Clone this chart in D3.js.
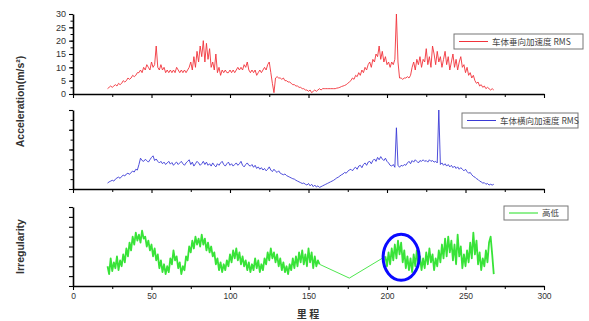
<!DOCTYPE html>
<html>
<head>
<meta charset="utf-8">
<script src="https://cdn.jsdelivr.net/npm/d3@7"></script>
<style>
  html, body { margin: 0; padding: 0; background: #fff; }
  svg { display: block; }
  text { font-family: "Liberation Sans", Arial, sans-serif; }
  .cjk { font-family: "Noto Sans CJK SC", sans-serif; }
</style>
</head>
<body>
<figure id="chart" style="margin:0"></figure>
<script>
// km positions shared by every series (22 .. 268)
const kmStart = 22;

// vertical acceleration RMS (m/s^2), one value per km from 22
const redValues = [
  2, 2.5, 3, 2.5, 3, 3.5, 3, 4, 3.5,
  4, 5, 4.5, 5, 6, 5.5, 6, 7, 6.5, 7, 8,
  8, 9, 8, 10, 9, 11, 10, 9, 12, 10, 11,
  18,
  10, 9, 11, 9, 10, 8, 9,
  8, 9, 8, 9, 8, 10, 9, 8, 9, 8, 9, 8,
  9, 10, 12, 9, 14, 10, 16, 12, 18, 14, 20, 12, 19, 13, 17, 10, 12, 9, 15, 8, 10, 7, 9,
  8, 9, 8, 8, 9, 8, 9, 8, 9, 10, 9, 10, 9, 11, 10, 12, 9,
  8, 9, 8, 9, 7, 8, 9, 8, 9, 10, 9, 11, 12,
  8, 4, 0.5, 6, 6.5, 6, 6, 5.5, 6, 5, 5, 4.5, 4.5, 4, 3.5, 3.5, 3, 3, 2.5, 2.5, 2, 2, 1.5, 1.5, 1, 1.5, 0.5, 1, 1.5, 1, 1.5, 2, 1.5,
  2, 2, 2, 2, 2, 2, 2, 2, 2, 2.2, 2.3, 2.5, 2.8, 3, 3.2, 3.5, 4,
  4.5, 5, 6, 5.5, 7, 6.5, 8, 7, 9, 8, 10, 9, 11, 12, 10, 13, 12,
  15, 14, 18, 13, 16, 12, 14, 11, 12, 10, 12, 11, 13,
  30,
  12, 6, 6, 5.5, 6, 6, 6.5, 6, 7,
  10, 12, 9, 13, 11, 14, 10, 13, 12, 17, 11, 14, 10, 18, 15, 11, 16, 12, 14, 10, 13, 16, 11, 14, 9, 12, 15, 10, 13, 9, 12, 14, 10, 11, 8, 10, 7,
  8, 6, 7, 5, 4, 4.5, 3, 3.5, 2.5, 3, 2, 2.5, 2, 1.5, 2, 1.5
];

// lateral acceleration RMS, one value per km from 22
const blueValues = [
  0.15, 0.18, 0.2, 0.22, 0.2, 0.25, 0.28, 0.3, 0.27, 0.32, 0.35, 0.33, 0.38, 0.4, 0.37, 0.42, 0.45, 0.43, 0.5, 0.48,
  0.62, 0.78, 0.72, 0.7, 0.75, 0.72, 0.68, 0.74, 0.8, 0.84, 0.72, 0.76, 0.7, 0.66, 0.7, 0.64, 0.68, 0.62, 0.66, 0.7,
  0.63, 0.67, 0.6, 0.65, 0.68, 0.62, 0.66, 0.7, 0.64, 0.6, 0.66, 0.7, 0.74, 0.62, 0.68, 0.58, 0.64, 0.7, 0.66, 0.6,
  0.64, 0.7, 0.62, 0.68, 0.6, 0.64, 0.58, 0.66, 0.6, 0.56, 0.64, 0.6, 0.66, 0.7, 0.62, 0.58, 0.64, 0.68, 0.6, 0.64,
  0.58, 0.62, 0.66, 0.6, 0.64, 0.7, 0.6, 0.56, 0.62, 0.66, 0.6, 0.58, 0.62, 0.55, 0.6, 0.52, 0.56, 0.5, 0.54, 0.48,
  0.52, 0.46, 0.5, 0.56, 0.48, 0.44, 0.5, 0.45, 0.42, 0.46, 0.4, 0.38, 0.36, 0.38, 0.34, 0.32, 0.3, 0.28, 0.26, 0.25,
  0.22, 0.2, 0.18, 0.16, 0.14, 0.15, 0.12, 0.1, 0.14, 0.08, 0.12, 0.06, 0.1, 0.05, 0.08, 0.04, 0.06, 0.08, 0.1, 0.12,
  0.14, 0.16, 0.18, 0.2, 0.22, 0.25, 0.28, 0.3, 0.33, 0.36, 0.38, 0.42, 0.4, 0.45, 0.48, 0.5, 0.46, 0.52, 0.55, 0.5,
  0.58, 0.6, 0.54, 0.62, 0.66, 0.6, 0.68, 0.7, 0.64, 0.72, 0.76, 0.7, 0.8, 0.74, 0.82, 0.76, 0.72, 0.78, 0.7, 0.66,
  0.6, 0.58, 0.62, 0.55, 1.55, 0.6, 0.55, 0.6, 0.58, 0.62, 0.6, 0.66, 0.7, 0.64, 0.72, 0.68, 0.74, 0.7, 0.66, 0.72,
  0.7, 0.74, 0.7, 0.72, 0.68, 0.74, 0.7, 0.72, 0.68, 0.7, 0.66, 2.0, 0.62, 0.66, 0.6, 0.64, 0.58, 0.62, 0.56, 0.6,
  0.54, 0.58, 0.52, 0.56, 0.5, 0.54, 0.5, 0.46, 0.5, 0.44, 0.4, 0.42, 0.36, 0.32, 0.3, 0.26, 0.24, 0.2, 0.18, 0.15,
  0.16, 0.12, 0.14, 0.1, 0.12, 0.1, 0.12
];

// track irregularity, one value per km from 22 (null = no reading)
const greenValues = [
  2.0, 1.2, 2.8, 1.5, 2.4, 1.8, 3.0, 1.6, 2.6, 2.0, 3.2, 2.4, 3.8, 3.0, 4.4, 3.6, 5.0, 4.2, 5.4, 4.6,
  5.2, 4.4, 5.6, 4.8, 5.0, 4.0, 4.6, 3.6, 4.2, 3.0, 3.8, 2.6, 3.2, 1.8, 2.6, 1.4, 2.2, 1.2, 2.0, 1.4,
  2.8, 2.2, 3.6, 2.6, 3.0, 1.8, 2.4, 1.2, 2.0, 1.6, 3.0, 2.6, 4.0, 3.4, 4.6, 3.8, 5.0, 4.2, 4.8, 4.0,
  5.2, 4.2, 4.8, 3.6, 4.4, 3.4, 4.0, 3.0, 3.4, 2.2, 2.8, 1.6, 2.4, 1.4, 2.2, 1.6, 2.6, 2.0, 3.2, 2.4,
  3.6, 2.8, 3.8, 2.6, 3.4, 2.2, 3.0, 2.0, 2.6, 1.6, 2.4, 1.4, 2.2, 1.6, 2.8, 1.8, 2.6, 1.4, 2.2, 1.6,
  2.8, 2.2, 3.4, 2.6, 3.8, 2.8, 3.4, 2.4, 3.2, 2.0, 2.8, 1.6, 2.4, 1.4, 2.0, 1.2, 2.2, 1.6, 2.8, 1.8,
  3.0, 2.0, 3.4, 2.4, 3.6, 2.2, 3.2, 2.0, 3.8, 2.4, 3.4, 1.8, 3.0, 2.0, 2.6, 2.2,
  null, null, null, null, null, null, null, null, null, null, null, null, null, null, null, null, null, null,
  0.8,
  null, null, null, null, null, null, null, null, null, null, null, null, null, null, null, null, null, null, null, null, null, null,
  3.0, 2.0, 3.4, 2.2, 3.8, 2.6, 4.2, 2.8, 4.6, 3.2, 4.4, 2.4, 3.6, 1.8, 3.0, 1.6, 2.8, 1.4, 3.2, 2.0,
  3.6, 2.2, 3.0, 1.6, 2.8, 1.8, 3.4, 2.2, 3.8, 2.4, 3.2, 1.6, 2.8, 2.0, 3.6, 2.4, 4.2, 2.8, 4.8, 3.0,
  5.0, 3.4, 4.6, 2.6, 4.2, 2.2, 5.2, 3.0, 4.0, 1.8, 3.2, 2.0, 3.6, 2.4, 4.4, 2.8, 5.4, 3.2, 4.6, 2.2,
  3.4, 1.6, 2.8, 2.0, 3.6, 2.4, 4.4, 5.0, 3.2, 1.2
];

const xTicks = [0, 50, 100, 150, 200, 250, 300];
const yTicksTop = [0, 5, 10, 15, 20, 25, 30];
const legendLabels = ['车体垂向加速度 RMS', '车体横向加速度 RMS', '高低'];
const yTitles = ['Acceleration(m/s²)', 'Irregularity'];
const xTitle = '里 程';
const colors = ['#f2333b', '#3b3bd6', '#22e022'];

const W = 589, H = 321;
const svg = d3.select('#chart').append('svg').attr('width', W).attr('height', H);

const x = d3.scaleLinear().domain([0, 300]).range([73, 544]);

const panels = [
  { values: redValues, domain: [0, 30], top: 14, bottom: 94, ticks: yTicksTop, minor: d3.range(0, 30.1, 2.5), labels: true,
    width: 1, legend: { x: 454, y: 34, w: 129, h: 15 } },
  { values: blueValues, domain: [0, 2], top: 110, bottom: 189, ticks: [0, 0.5, 1, 1.5, 2], minor: d3.range(0, 2.01, 0.25), labels: false,
    width: 1, legend: { x: 462, y: 113, w: 116, h: 15 } },
  { values: greenValues, domain: [0, 8], top: 207, bottom: 286, ticks: d3.range(0, 8.1, 1), minor: [], labels: false,
    width: 1.8, legend: { x: 504, y: 206, w: 64, h: 14 } }
];

panels.forEach((p, i) => {
  const y = d3.scaleLinear().domain(p.domain).range([p.bottom, p.top]);
  p.y = y;
  const g = svg.append('g');

  // minor ticks on y
  const yMinor = g.append('g')
      .attr('transform', 'translate(73,0)')
      .call(d3.axisLeft(y).tickValues(p.minor).tickSize(2.5).tickFormat(''));
  yMinor.select('.domain').remove();

  const yAxis = g.append('g')
      .attr('transform', 'translate(73,0)')
      .call(d3.axisLeft(y).tickValues(p.ticks).tickSize(4).tickSizeOuter(0)
        .tickFormat(p.labels ? d3.format('d') : ''));
  yAxis.select('.domain').attr('stroke-width', 1.6);
  yAxis.selectAll('.tick line').attr('stroke-width', 1.1);
  yAxis.selectAll('text').attr('font-size', 9).attr('fill', '#333').attr('x', -7);

  const xMinor = g.append('g')
      .attr('transform', `translate(0,${p.bottom})`)
      .call(d3.axisBottom(x).tickValues(d3.range(25, 300, 50)).tickSize(3).tickFormat(''));
  xMinor.select('.domain').remove();

  const xAxis = g.append('g')
      .attr('transform', `translate(0,${p.bottom})`)
      .call(d3.axisBottom(x).tickValues(xTicks).tickSize(4).tickSizeOuter(0)
        .tickFormat(i === 2 ? d3.format('d') : ''));
  xAxis.select('.domain').attr('stroke-width', 1.6);
  xAxis.selectAll('.tick line').attr('stroke-width', 1.1);
  xAxis.selectAll('text').attr('font-size', 8.5).attr('fill', '#333').attr('y', 7);

  const pts = p.values.map((v, k) => ({ km: kmStart + k, v: v })).filter(d => d.v !== null);
  const line = d3.line().x(d => x(d.km)).y(d => y(d.v));

  // split into continuous runs; gaps are joined with a thin line
  const runs = [[pts[0]]];
  const links = [];
  for (let k = 1; k < pts.length; k++) {
    if (pts[k].km - pts[k - 1].km > 1) {
      links.push([pts[k - 1], pts[k]]);
      runs.push([]);
    }
    runs[runs.length - 1].push(pts[k]);
  }
  g.selectAll('path.link').data(links).enter().append('path')
      .attr('class', 'link')
      .attr('fill', 'none').attr('stroke', colors[i]).attr('stroke-width', 0.8)
      .attr('d', line);
  g.selectAll('path.run').data(runs).enter().append('path')
      .attr('class', 'run')
      .attr('fill', 'none')
      .attr('stroke', colors[i])
      .attr('stroke-width', p.width)
      .attr('stroke-linejoin', 'round')
      .attr('opacity', 0.9)
      .attr('d', line);

  // legend box
  const L = p.legend;
  const lg = svg.append('g').attr('transform', `translate(${L.x},${L.y})`);
  lg.append('rect').attr('width', L.w).attr('height', L.h)
      .attr('fill', '#fff').attr('stroke', '#777').attr('stroke-width', 1);
  lg.append('line').attr('x1', 5).attr('x2', 34).attr('y1', L.h / 2).attr('y2', L.h / 2)
      .attr('stroke', colors[i]).attr('stroke-width', 1);
  lg.append('text').attr('class', 'cjk')
      .attr('x', 38).attr('y', L.h / 2 + 3)
      .attr('font-size', 8.5).attr('fill', '#444')
      .text(legendLabels[i]);
});

// axis titles
svg.append('text')
    .attr('transform', `translate(24,${(panels[0].top + panels[1].bottom) / 2}) rotate(-90)`)
    .attr('text-anchor', 'middle')
    .attr('font-size', 10.5).attr('font-weight', 'bold').attr('fill', '#333')
    .text(yTitles[0]);
svg.append('text')
    .attr('transform', `translate(24,${(panels[2].top + panels[2].bottom) / 2}) rotate(-90)`)
    .attr('text-anchor', 'middle')
    .attr('font-size', 10.5).attr('font-weight', 'bold').attr('fill', '#333')
    .text(yTitles[1]);
svg.append('text').attr('class', 'cjk')
    .attr('x', 308).attr('y', 318)
    .attr('text-anchor', 'middle')
    .attr('font-size', 10).attr('font-weight', 'bold').attr('fill', '#333')
    .text(xTitle);

// highlighted region in the irregularity panel
svg.append('ellipse')
    .attr('cx', x(209)).attr('cy', panels[2].y(2.9))
    .attr('rx', 18).attr('ry', 23)
    .attr('fill', 'none').attr('stroke', '#0a0aff').attr('stroke-width', 3);
</script>
</body>
</html>
